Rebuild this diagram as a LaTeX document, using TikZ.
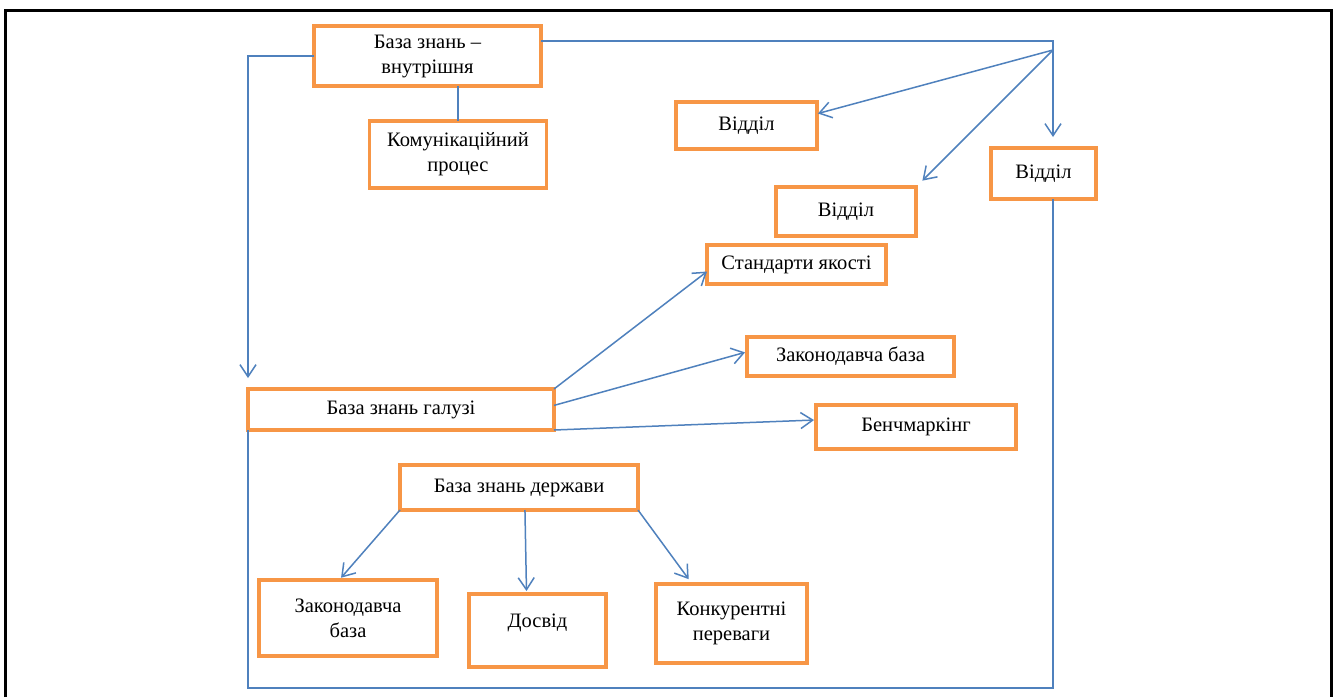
\documentclass[tikz,border=0pt]{standalone}
\usepackage{fontspec}
\setmainfont{Liberation Serif}
\usetikzlibrary{arrows.meta,calc}
\definecolor{orng}{HTML}{F79646}
\definecolor{blu}{HTML}{4F81BD}
\begin{document}
\begin{tikzpicture}[x=1pt,y=-1pt,
  bx/.style={draw=orng, line width=3.4pt, inner sep=0pt, outer sep=0pt, align=center,
             font=\fontsize{20.5}{25}\selectfont},
  ln/.style={draw=blu, line width=1.5pt},
  ar/.style={ln, -{Straight Barb[length=12pt,width=16pt,line width=1.5pt]}}]
\path[use as bounding box, fill=white] (0,0) rectangle (1336,697);
% outer frame
\draw[line width=3pt, black] (5.5,697) -- (5.5,10) -- (1331.5,10) -- (1331.5,697);

% nodes
\node[bx, minimum width=227pt, minimum height=60pt] (bzv) at (427.5,56) {База знань –\\внутрішня};
\node[bx, minimum width=177pt, minimum height=67pt] (kom) at (458,154.5) {Комунікаційний\\процес};
\node[bx, minimum width=141pt, minimum height=47pt] (dv1) at (746.5,125.5) {Відділ};
\node[bx, minimum width=140pt, minimum height=49pt] (dv2) at (846,211.5) {Відділ};
\node[bx, minimum width=105pt, minimum height=51pt] (dv3) at (1043.5,173.5) {Відділ};
\node[bx, minimum width=179pt, minimum height=39pt] (st) at (796.5,264.5) {Стандарти якості};
\node[bx, minimum width=207pt, minimum height=39pt] (zb1) at (850.5,356.5) {Законодавча база};
\node[bx, minimum width=306pt, minimum height=41pt] (gal) at (401,409.5) {База знань галузі};
\node[bx, minimum width=200pt, minimum height=44pt] (ben) at (916,427) {Бенчмаркінг};
\node[bx, minimum width=238pt, minimum height=45pt] (der) at (519,487.5) {База знань держави};
\node[bx, minimum width=178pt, minimum height=76pt] (zb2) at (348,618) {Законодавча\\база};
\node[bx, minimum width=137pt, minimum height=73pt, text height=13pt, text depth=19pt] (dos) at (537.5,630.5) {Досвід};
\node[bx, minimum width=151pt, minimum height=79pt] (kon) at (731.5,623.5) {Конкурентні\\переваги};

% coordinates
\coordinate (ctr) at (1053,41);
\coordinate (fan) at (1053,50);
\coordinate (cbr) at (1053,688);
\coordinate (cbl) at (248,688);

% connectors
\draw[ln] (kom.north |- bzv.south) -- (kom.north);
\draw[ar, shorten >=11pt] (ctr -| bzv.east) -- (ctr) -- (dv3.north -| ctr);
\draw[ar, shorten >=1pt] (fan) -- ($(dv1.north east)!0.25!(dv1.south east)$);
\draw[ar, shorten >=9pt] (fan) -- (dv2.north east);
\draw[ar, shorten >=11pt] (bzv.west) -- (bzv.west -| gal.north west) -- (gal.north west);
\draw[ln] (dv3.south -| cbr) -- (cbr) -- (cbl) -- (gal.south west);

\draw[ar] (gal.north east) -- ($(st.north west)!0.68!(st.south west)$);
\draw[ar, shorten >=2pt] ($(gal.north east)!0.4!(gal.south east)$) -- ($(zb1.north west)!0.38!(zb1.south west)$);
\draw[ar, shorten >=2pt] (gal.south east) -- ($(ben.north west)!0.34!(ben.south west)$);

\draw[ar, shorten >=3pt] (der.south west) -- ($(zb2.north west)!0.45!(zb2.north east)$);
\draw[ar, shorten >=3pt] ($(der.south west)!0.525!(der.south east)$) -- ($(dos.north west)!0.42!(dos.north east)$);
\draw[ar, shorten >=6pt] (der.south east) -- ($(kon.north west)!0.24!(kon.north east)$);
\end{tikzpicture}
\end{document}
